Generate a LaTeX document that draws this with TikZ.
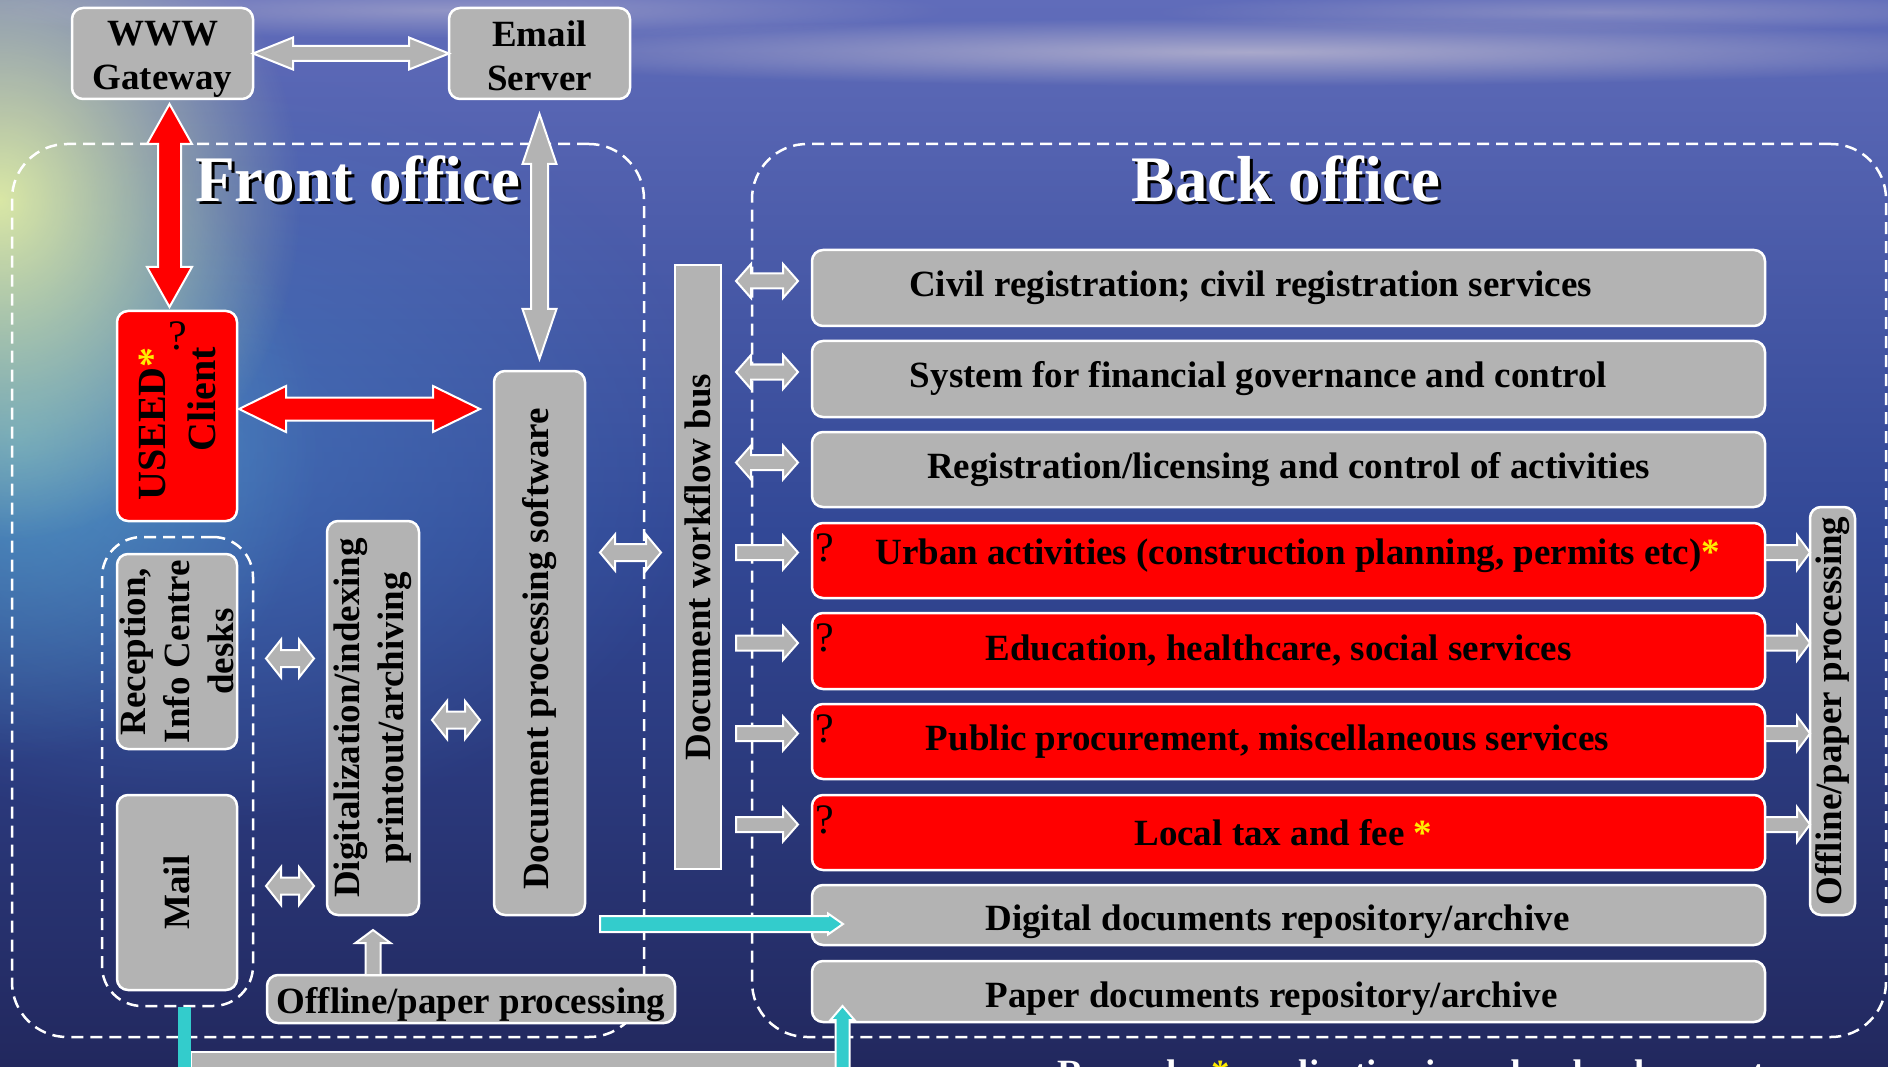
\documentclass[tikz,border=0pt]{standalone}
\usepackage{fontspec}
\setmainfont{Liberation Serif}
\usetikzlibrary{calc,fadings}

\tikzfading[name=glowfade, inner color=transparent!0, outer color=transparent!100]

\definecolor{boxgray}{RGB}{179,179,179}
\definecolor{cyanc}{RGB}{51,204,204}
\definecolor{stary}{RGB}{255,235,0}
\definecolor{bgtop}{RGB}{96,108,186}
\definecolor{bgmid}{RGB}{50,72,150}
\definecolor{bgbot}{RGB}{34,40,94}
\definecolor{glowy}{RGB}{225,238,165}
\definecolor{glowc}{RGB}{90,175,205}
\definecolor{glowb}{RGB}{70,120,190}
\definecolor{streak}{RGB}{195,190,210}

\newcommand\bxf{\fontsize{37}{44}\selectfont\bfseries}
\newcommand\ttlf{\fontsize{65}{70}\selectfont\bfseries}
\newcommand\qf{\fontsize{42}{44}\selectfont}
\newcommand\ystar{{\color{stary}*}}

% block double arrow: style, A, B, half shaft, half head, head length
\newcommand\dblarrow[6]{%
  \path[#1] (#2)
   -- ($(#2)!#6!(#3)!#5!90:(#3)$)
   -- ($(#2)!#6!(#3)!#4!90:(#3)$)
   -- ($(#3)!#6!(#2)!#4!-90:(#2)$)
   -- ($(#3)!#6!(#2)!#5!-90:(#2)$)
   -- (#3)
   -- ($(#3)!#6!(#2)!#5!90:(#2)$)
   -- ($(#3)!#6!(#2)!#4!90:(#2)$)
   -- ($(#2)!#6!(#3)!#4!-90:(#3)$)
   -- ($(#2)!#6!(#3)!#5!-90:(#3)$)
   -- cycle;}
% block single arrow: style, tail, tip, half shaft, half head, head length
\newcommand\sglarrow[6]{%
  \path[#1] ($(#2)!#4!90:(#3)$)
   -- ($(#3)!#6!(#2)!#4!-90:(#2)$)
   -- ($(#3)!#6!(#2)!#5!-90:(#2)$)
   -- (#3)
   -- ($(#3)!#6!(#2)!#5!90:(#2)$)
   -- ($(#3)!#6!(#2)!#4!90:(#2)$)
   -- ($(#2)!#4!-90:(#3)$)
   -- cycle;}

\begin{document}
\begin{tikzpicture}[x=1pt,y=-1pt,
  box/.style={draw=white, line width=2.5pt, fill=boxgray, rounded corners=11pt,
    inner sep=0pt, outer sep=0pt, font=\bxf},
  redbox/.style={box, fill=red},
  busbox/.style={box, rounded corners=0pt},
  grp/.style={draw=white, line width=2.5pt, dash pattern=on 12pt off 7pt,
    rounded corners=55pt, inner sep=0pt, outer sep=0pt},
  rot/.style={rotate=90, font=\bxf, align=center, inner sep=0pt},
  hlbl/.style={font=\bxf, align=center, inner sep=0pt},
  ttl/.style={font=\ttlf, text=white, anchor=base, inner sep=0pt},
  qmark/.style={font=\qf, inner sep=0pt, anchor=north west},
  grayarr/.style={fill=boxgray, draw=white, line width=2pt, line join=miter},
  redarr/.style={fill=red, draw=white, line width=2pt, line join=miter},
  cyanarr/.style={fill=cyanc, draw=white, line width=2pt, line join=miter}]

\useasboundingbox (0,0) rectangle (1888,1067);
\clip (0,0) rectangle (1888,1067);

% background
\shade[top color=bgtop, bottom color=bgbot, middle color=bgmid] (0,0) rectangle (1888,1067);
\fill[glowb, path fading=glowfade, opacity=.7] (200,450) ellipse (520 and 380);
\fill[glowc, path fading=glowfade, opacity=.65] (20,440) ellipse (300 and 320);
\fill[glowy, path fading=glowfade, opacity=.95] (0,200) ellipse (300 and 340);
\fill[streak, path fading=glowfade, opacity=.75] (1250,52) ellipse (820 and 34);
\fill[streak, path fading=glowfade, opacity=.5] (450,10) ellipse (500 and 28);
\fill[streak, path fading=glowfade, opacity=.4] (1600,12) ellipse (450 and 20);

% dashed groups
\node[grp, minimum width=632pt, minimum height=893pt] (front) at (328,590.5) {};
\node[grp, minimum width=1134pt, minimum height=893pt] (back) at (1319,590.5) {};
\node[grp, rounded corners=40pt, minimum width=151pt, minimum height=469pt] (recgroup) at (177.5,771.5) {};

% titles
\node[ttl, text=black] at (361,205) {Front office};
\node[ttl] (fronttitle) at (358,202) {Front office};
\node[ttl, text=black] at (1289,205) {Back office};
\node[ttl] (backtitle) at (1286,202) {Back office};

% front office boxes
\node[box, minimum width=181pt, minimum height=91pt] (www) at (162.5,53.5) {};
\node[hlbl] at ($(www)+(0,6)$) {WWW\\Gateway};
\node[box, minimum width=181pt, minimum height=91pt] (email) at (539.5,53.5) {};
\node[hlbl] at ($(email)+(0,2)$) {Email\\Server};

\node[redbox, minimum width=120pt, minimum height=210pt] (useed) at (177,416) {};
\node[rot, font=\fontsize{40}{50}\selectfont\bfseries, align=right] at ($(useed)+(0,8)$) {USEED\ystar\\Client};
\node[font=\qf, inner sep=0pt] at ($(useed.north)+(0.5,25)$) {?};

\node[box, minimum width=120pt, minimum height=195pt] (reception) at (177,651.5) {};
\node[rot] at (reception) {Reception,\\Info Centre\\desks};
\node[box, minimum width=120pt, minimum height=195pt] (mail) at (177,892.5) {};
\node[rot] at (mail) {Mail};

\node[box, minimum width=92pt, minimum height=394pt] (digit) at (373,718) {};
\node[rot] at (digit) {Digitalization/indexing\\printout/archiving};
\node[box, minimum width=91pt, minimum height=544pt] (docproc) at (539.5,643) {};
\node[rot] at ($(docproc)+(0,6)$) {Document processing software};
\node[box, text height=37pt, minimum width=408pt, minimum height=48pt] (offline1) at (471,999) {Offline/paper processing};

\node[busbox, minimum width=46pt, minimum height=604pt] (bus) at (698,567) {};
\node[rot] at (bus) {Document workflow bus};

% back office rows
\node[box, minimum width=953pt, minimum height=76pt] (r1) at (1288.5,288) {Civil registration; civil registration services\hspace*{76pt}};
\node[box, minimum width=953pt, minimum height=76pt] (r2) at (1288.5,379) {System for financial governance and control\hspace*{60pt}};
\node[box, minimum width=953pt, minimum height=75pt] (r3) at (1288.5,469.5) {Registration/licensing and control of activities};
\node[redbox, text depth=18pt, minimum width=953pt, minimum height=75pt] (r4) at (1288.5,560.5) {Urban activities (construction planning, permits etc)\rlap{\ystar}};
\node[redbox, minimum width=953pt, minimum height=76pt] (r5) at (1288.5,651) {Education, healthcare, social services\hspace*{20pt}};
\node[redbox, minimum width=953pt, minimum height=75pt] (r6) at (1288.5,741.5) {Public procurement, miscellaneous services\hspace*{42pt}};
\node[redbox, minimum width=953pt, minimum height=75pt] (r7) at (1288.5,832.5) {Local tax and fee\rlap{\ \ystar}\hspace*{38pt}};
\node[box, text height=39pt, minimum width=953pt, minimum height=60pt] (r8) at (1288.5,915) {Digital documents repository/archive\hspace*{22pt}};
\node[box, text height=39pt, minimum width=953pt, minimum height=61pt] (r9) at (1288.5,991.5) {Paper documents repository/archive\hspace*{34pt}};
\foreach \r in {4,5,6,7} {\node[qmark] at ($(r\r.north west)+(3,10)$) {?};}

\node[box, minimum width=45pt, minimum height=408pt] (offline2) at (1832.5,711) {};
\node[rot] at (offline2) {Offline/paper processing};

% connectors front office
\dblarrow{grayarr}{www.east}{email.west}{7.5pt}{16pt}{40pt}
\coordinate (rv1) at ($(www.south)+(7,5)$);
\coordinate (rv2) at ($(rv1 |- useed.north)+(0,-4)$);
\dblarrow{redarr}{rv1}{rv2}{11.5pt}{22.5pt}{40pt}
\coordinate (rh1) at ($(useed.east)+(2,-7)$);
\coordinate (rh2) at ($(rh1 -| docproc.west)+(-14,0)$);
\dblarrow{redarr}{rh1}{rh2}{11.5pt}{23pt}{47pt}
\coordinate (ev1) at ($(email.south)+(0,15)$);
\coordinate (ev2) at ($(docproc.north)+(0,-12)$);
\dblarrow{grayarr}{ev1}{ev2}{8.5pt}{17pt}{50pt}

\coordinate (ra1) at ($(recgroup.east |- reception.east)+(13,7)$);
\coordinate (ra2) at ($(ra1 -| digit.west)+(-13,0)$);
\dblarrow{grayarr}{ra1}{ra2}{8.5pt}{19pt}{15pt}
\coordinate (ma1) at ($(recgroup.east |- mail.east)+(13,-6.5)$);
\coordinate (ma2) at ($(ma1 -| digit.west)+(-13,0)$);
\dblarrow{grayarr}{ma1}{ma2}{8.5pt}{19pt}{15pt}
\coordinate (da1) at ($(digit.east)+(13,2)$);
\coordinate (da2) at ($(da1 -| docproc.west)+(-14,0)$);
\dblarrow{grayarr}{da1}{da2}{8.5pt}{19pt}{15pt}
\coordinate (db1) at ($(docproc.east |- r4.west)+(15,-8)$);
\coordinate (db2) at ($(db1 -| bus.west)+(-14,0)$);
\dblarrow{grayarr}{db1}{db2}{8.5pt}{18pt}{15pt}

\coordinate (ua1) at (digit.south |- offline1.north);
\coordinate (ua2) at ($(digit.south)+(0,15)$);
\sglarrow{grayarr}{ua1}{ua2}{7.5pt}{17.5pt}{13pt}

% connectors back office
\foreach \r in {1,2,3} {
  \coordinate (bl\r) at ($(bus.east |- r\r.west)+(15,-7)$);
  \coordinate (br\r) at ($(r\r.west)+(-14,-7)$);
  \dblarrow{grayarr}{bl\r}{br\r}{7.5pt}{17pt}{15pt}
}
\foreach \r in {4,5,6,7} {
  \coordinate (bl\r) at ($(bus.east |- r\r.west)+(15,-8)$);
  \coordinate (br\r) at ($(r\r.west)+(-14,-8)$);
  \sglarrow{grayarr}{bl\r}{br\r}{7.5pt}{17pt}{15pt}
  \coordinate (ol\r) at ($(r\r.east)+(0,-8)$);
  \coordinate (or\r) at (offline2.west |- ol\r);
  \sglarrow{grayarr}{ol\r}{or\r}{7.5pt}{17.5pt}{13pt}
}

% cyan connectors
\coordinate (ch1) at ($(docproc.east |- r8.center)+(15,9)$);
\coordinate (ch2) at ($(r8.west)+(31,9)$);
\sglarrow{cyanarr}{ch1}{ch2}{8pt}{10.5pt}{15pt}

\coordinate (cl1) at ($(recgroup.south)+(7,1)$);
\coordinate (cu2) at ($(r9.south west)+(30.5,-16)$);
\coordinate (cu1) at ($(cu2)+(0,80)$);
\draw[fill=boxgray, draw=white, line width=2pt] ($(cl1)+(6.5,45)$) rectangle ($(r9.south west)+(24,62)$);
\draw[cyanc, line width=13pt] (cl1) -- ($(cl1)+(0,75)$);
\sglarrow{cyanarr}{cu1}{cu2}{7pt}{12pt}{14pt}

% remark (cut off at the lower edge, as in the reference)
\node[font=\bxf, text=white, anchor=base west, inner sep=0pt] (remark) at (1057,1085) {Remark: \ystar\ application is under development};
\end{tikzpicture}
\end{document}
